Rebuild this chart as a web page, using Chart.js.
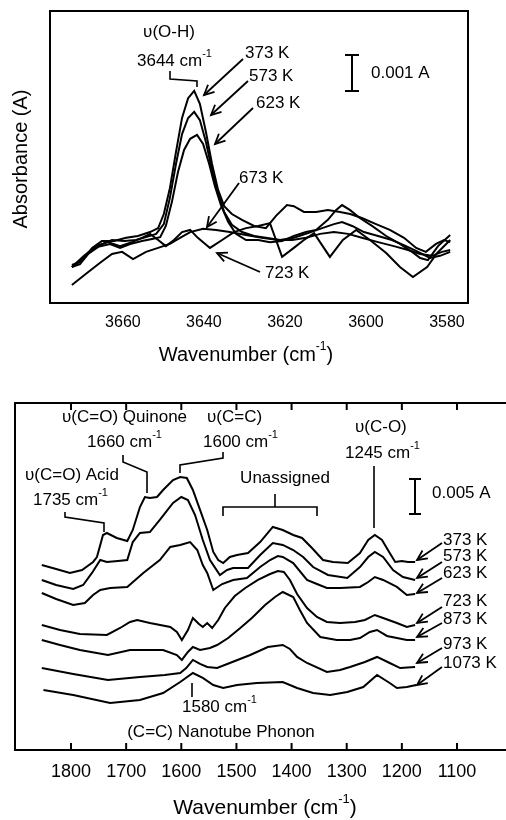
<!DOCTYPE html>
<html>
<head>
<meta charset="utf-8">
<script src="https://cdn.jsdelivr.net/npm/chart.js@4.4.0/dist/chart.umd.min.js"></script>
<style>
  html, body { margin: 0; padding: 0; background: #fff; overflow: hidden; width: 506px; height: 820px; }
  canvas { position: absolute; left: 0; }
  #top { top: 0; }
  #bot { top: 380px; }
</style>
</head>
<body>
<canvas id="top" width="506" height="380"></canvas>
<canvas id="bot" width="520" height="440"></canvas>
<script>
// ---- top panel: O-H stretch region, absorbance in 0.001 A (offset arbitrary)
const topTemps = ['373 K', '573 K', '623 K', '673 K', '723 K'];
const topTicks = [3660, 3640, 3620, 3600, 3580];

const topWn373 = [3672.6,3670.1,3667.6,3665.2,3662.2,3659.2,3656.3,3653.3,3651.3,3649.9,3648.4,3646.9,3645.4,3643.9,3642.4,3641.0,3639.5,3638.0,3636.5,3635.0,3633.1,3630.6,3627.6,3624.7,3622.2,3619.5,3617.8,3615.3,3612.3,3609.4,3606.4,3603.9,3601.0,3597.5,3594.1,3590.6,3587.6,3585.2,3582.7,3580.7,3579.2];
const topAbs373 = [1.00,1.19,1.53,1.72,1.72,1.81,1.86,1.97,2.08,2.47,3.19,4.19,5.14,5.69,5.89,5.53,4.75,3.86,3.14,2.69,2.47,2.31,2.14,2.08,2.42,2.72,2.69,2.53,2.53,2.58,2.53,2.47,2.36,2.19,2.03,1.81,1.53,1.42,1.64,1.75,1.69];

const topWn573 = [3672.6,3670.6,3668.1,3665.7,3662.7,3659.7,3656.8,3654.3,3651.8,3649.9,3648.4,3646.9,3645.4,3643.9,3642.4,3641.0,3639.5,3638.0,3636.5,3635.0,3633.1,3630.6,3627.6,3624.7,3621.2,3617.8,3614.3,3610.8,3607.9,3605.9,3603.4,3600.5,3597.0,3593.6,3590.1,3587.1,3584.2,3581.7,3579.2];
const topAbs573 = [1.06,1.14,1.42,1.61,1.75,1.72,1.75,1.83,1.92,2.19,2.92,3.86,4.69,5.14,5.31,5.08,4.47,3.69,3.03,2.53,2.17,1.97,1.86,1.81,1.75,1.81,1.94,2.08,2.19,2.25,2.14,1.97,1.86,1.75,1.58,1.42,1.25,1.31,1.42];

const topWn623 = [3672.6,3670.6,3668.6,3666.1,3663.2,3660.7,3658.2,3655.3,3652.8,3650.8,3649.4,3647.9,3646.4,3644.9,3643.4,3641.7,3640.2,3638.7,3637.3,3635.8,3634.0,3632.1,3629.6,3626.6,3623.7,3620.7,3617.8,3614.8,3612.3,3609.4,3607.4,3605.9,3603.9,3601.5,3598.5,3595.0,3591.6,3588.6,3586.6,3584.7,3582.2,3579.2];
const topAbs623 = [1.00,1.08,1.36,1.56,1.64,1.53,1.64,1.72,1.78,1.83,2.14,2.81,3.64,4.25,4.56,4.67,4.42,3.86,3.25,2.72,2.25,1.92,1.75,1.75,1.69,1.72,1.86,1.97,2.03,2.31,2.58,2.72,2.58,2.36,2.14,1.86,1.64,1.42,1.25,1.19,1.58,1.89];

const topWn673 = [3672.6,3669.1,3665.7,3662.7,3660.2,3657.5,3654.3,3651.3,3648.4,3645.9,3643.4,3640.2,3637.0,3633.6,3629.6,3625.7,3621.7,3618.2,3614.8,3611.3,3607.9,3604.4,3601.0,3597.0,3593.1,3589.6,3586.6,3583.7,3581.2,3579.2];
const topAbs673 = [0.50,0.81,1.11,1.36,1.42,1.22,1.42,1.53,1.64,1.81,1.97,2.06,2.03,1.97,1.89,1.81,1.75,1.75,1.81,1.92,1.97,1.92,1.81,1.69,1.58,1.47,1.36,1.31,1.42,1.47];

const topWn723 = [3672.6,3669.6,3666.6,3663.7,3660.7,3657.8,3655.3,3653.3,3651.3,3649.4,3647.4,3645.4,3643.4,3641.5,3638.5,3635.5,3632.6,3629.6,3626.6,3623.7,3620.7,3617.8,3615.3,3612.8,3608.9,3605.7,3602.4,3599.0,3595.0,3591.6,3588.4,3584.9,3582.4,3579.2];
const topAbs723 = [1.00,1.31,1.58,1.69,1.58,1.69,1.81,1.92,1.75,1.58,1.75,1.97,2.03,1.81,1.53,1.75,1.97,2.08,2.14,2.22,1.28,1.53,1.75,1.94,1.28,1.75,2.03,1.75,1.39,1.00,0.72,1.00,1.39,1.75];

// ---- bottom panel: 1850-1175 cm-1 region, absorbance in 0.001 A (offset arbitrary)
const botTemps = ['373 K', '573 K', '623 K', '723 K', '873 K', '973 K', '1073 K'];
const botTicks = [1800, 1700, 1600, 1500, 1400, 1300, 1200, 1100];

const botWn373 = [1853,1827,1802,1780,1760,1753,1742,1735,1717,1698,1688,1675,1666,1657,1644,1633,1615,1602,1590,1579,1566,1553,1542,1533,1524,1512,1499,1479,1457,1434,1416,1397,1381,1363,1343,1325,1298,1276,1261,1249,1236,1222,1212,1200,1189,1176];
const botAbs373 = [26.43,25.86,25.29,25.71,26.86,27.57,30.71,31.0,30.29,29.86,31.43,34.71,36.14,36.0,36.14,37.14,38.57,39.0,38.86,37.14,34.29,31.43,28.29,27.14,26.71,27.57,27.86,28.14,29.71,31.86,31.43,30.71,30.29,28.86,27.14,26.86,26.71,28.14,30.0,30.71,30.0,28.14,26.86,27.0,26.86,26.86];

const botWn573 = [1853,1827,1796,1778,1762,1747,1735,1715,1698,1688,1675,1657,1639,1615,1600,1588,1575,1561,1548,1530,1517,1506,1479,1457,1434,1416,1397,1379,1361,1334,1299,1276,1261,1249,1234,1216,1198,1176];
const botAbs573 = [24.29,23.57,23.0,23.57,25.29,27.14,26.86,27.0,27.14,29.71,31.0,31.14,32.86,35.29,36.14,35.71,33.57,30.0,27.14,25.0,25.71,26.0,26.0,27.86,29.57,29.29,28.57,27.57,26.14,25.0,24.57,26.14,27.57,28.29,27.57,25.71,24.71,24.29];

const botWn623 = [1853,1827,1796,1775,1760,1747,1729,1698,1669,1639,1620,1602,1584,1571,1561,1553,1542,1526,1506,1481,1457,1439,1425,1416,1397,1372,1354,1336,1312,1276,1261,1249,1234,1209,1191,1176];
const botAbs623 = [22.43,21.57,20.71,21.0,22.14,22.86,23.14,23.29,25.29,27.14,29.0,29.29,29.71,28.57,26.43,25.29,22.86,23.71,24.29,24.57,26.14,27.14,27.71,27.57,26.71,24.29,23.71,23.14,23.14,23.29,24.0,24.71,24.29,23.29,22.14,22.29];

const botWn723 = [1853,1820,1784,1735,1711,1693,1680,1657,1620,1608,1599,1588,1579,1568,1561,1553,1544,1533,1521,1503,1484,1461,1439,1425,1414,1403,1390,1372,1354,1336,1312,1285,1267,1249,1234,1209,1191,1176];
const botAbs723 = [17.86,17.14,16.57,16.43,17.43,18.29,18.57,18.14,17.57,16.86,15.71,17.14,18.86,18.0,17.57,18.14,17.43,18.57,20.29,22.0,23.14,24.29,25.14,25.57,25.43,24.29,22.29,20.29,19.0,18.29,18.14,18.29,18.57,19.29,18.86,18.14,17.57,17.86];

const botWn873 = [1853,1820,1784,1733,1693,1633,1608,1599,1588,1579,1566,1548,1535,1515,1493,1472,1448,1430,1416,1397,1385,1372,1348,1318,1294,1276,1258,1245,1227,1209,1191,1176];
const botAbs873 = [15.71,15.0,14.29,13.57,14.29,14.29,13.57,12.86,14.0,14.71,14.29,14.57,15.0,16.0,17.43,18.86,20.71,21.86,22.57,21.86,20.0,18.14,16.14,15.71,15.71,16.0,16.86,17.14,16.29,16.0,15.71,15.71];

const botWn973 = [1853,1796,1733,1675,1630,1602,1591,1579,1566,1553,1535,1512,1475,1443,1416,1403,1390,1372,1336,1312,1294,1267,1245,1222,1203,1176];
const botAbs973 = [11.71,10.86,10.0,10.43,10.71,11.0,11.71,12.86,12.29,11.86,11.71,12.43,13.57,14.71,15.0,14.43,13.29,12.43,11.14,11.43,11.86,12.57,13.29,12.43,11.71,11.86];

const botWn1073 = [1850,1796,1729,1675,1633,1602,1579,1561,1542,1524,1499,1463,1416,1390,1361,1330,1299,1270,1245,1222,1209,1191,1174];
const botAbs1073 = [8.57,7.86,6.71,7.14,8.14,9.71,11.0,10.29,9.29,8.86,9.29,9.57,9.71,8.86,8.14,7.86,8.29,9.0,10.71,9.57,8.86,9.0,9.29];

const topWn = [topWn373, topWn573, topWn623, topWn673, topWn723];
const topAbs = [topAbs373, topAbs573, topAbs623, topAbs673, topAbs723];
const botWn = [botWn373, botWn573, botWn623, botWn723, botWn873, botWn973, botWn1073];
const botAbs = [botAbs373, botAbs573, botAbs623, botAbs723, botAbs873, botAbs973, botAbs1073];

const FONT = '"Liberation Sans", Arial, Helvetica, sans-serif';

function series(wn, ab) {
  return wn.map((w, i) => ({ x: w, y: ab[i] }));
}

function poly(ctx, pts) {
  ctx.beginPath();
  ctx.moveTo(pts[0][0], pts[0][1]);
  for (let i = 1; i < pts.length; i++) ctx.lineTo(pts[i][0], pts[i][1]);
  ctx.stroke();
}

function arrow(ctx, x0, y0, x1, y1) {
  poly(ctx, [[x0, y0], [x1, y1]]);
  const a = Math.atan2(y1 - y0, x1 - x0), L = 11, s = 0.45;
  poly(ctx, [[x1 - L * Math.cos(a - s), y1 - L * Math.sin(a - s)], [x1, y1],
             [x1 - L * Math.cos(a + s), y1 - L * Math.sin(a + s)]]);
}

// parts: even entries normal text, odd entries superscript
function rich(ctx, parts, x, y, size, align) {
  const fonts = parts.map((p, i) => (i % 2 ? Math.round(size * 0.62) : size) + 'px ' + FONT);
  let w = 0;
  parts.forEach((p, i) => { ctx.font = fonts[i]; w += ctx.measureText(p).width; });
  let cx = align === 'center' ? x - w / 2 : x;
  ctx.textAlign = 'left';
  ctx.textBaseline = 'middle';
  parts.forEach((p, i) => {
    ctx.font = fonts[i];
    ctx.fillText(p, cx, i % 2 ? y - size * 0.42 : y);
    cx += ctx.measureText(p).width;
  });
}

function scaleBar(ctx, x, y0, y1, cap) {
  poly(ctx, [[x, y0], [x, y1]]);
  poly(ctx, [[x - cap, y0], [x + cap, y0]]);
  poly(ctx, [[x - cap, y1], [x + cap, y1]]);
}

function makeDatasets(names, wns, abs) {
  return names.map((t, i) => ({
    label: t,
    data: series(wns[i], abs[i]),
    showLine: true,
    pointRadius: 0,
    borderColor: '#000',
    borderWidth: 2,
    tension: 0
  }));
}

const topDeco = {
  id: 'topDeco',
  afterDraw(chart) {
    const ctx = chart.ctx, a = chart.chartArea;
    ctx.save();
    ctx.strokeStyle = '#000';
    ctx.fillStyle = '#000';
    ctx.lineWidth = 2;
    ctx.strokeRect(a.left, a.top, a.right - a.left, a.bottom - a.top);

    rich(ctx, ['υ(O-H)'], 169, 32, 17, 'center');
    rich(ctx, ['3644 cm', '-1'], 137, 61, 17, 'left');
    ctx.lineWidth = 1.6;
    poly(ctx, [[170, 71], [170, 79], [197, 81], [197, 87]]);

    const labs = [[245, 53], [249, 76], [256, 103], [239, 178], [265, 273]];
    topTemps.forEach((t, i) => rich(ctx, [t], labs[i][0], labs[i][1], 17, 'left'));
    ctx.lineWidth = 1.8;
    arrow(ctx, 243, 59, 204, 95);
    arrow(ctx, 248, 81, 211, 115);
    arrow(ctx, 253, 108, 215, 144);
    arrow(ctx, 239, 183, 207, 227);
    arrow(ctx, 260, 272, 217, 253);

    ctx.lineWidth = 2;
    scaleBar(ctx, 352, 55, 91, 7);
    rich(ctx, ['0.001 A'], 371, 73, 17, 'left');

    rich(ctx, ['Wavenumber (cm', '-1', ')'], 246, 355, 20, 'center');
    ctx.translate(21, 159);
    ctx.rotate(-Math.PI / 2);
    rich(ctx, ['Absorbance (A)'], 0, 0, 20, 'center');
    ctx.restore();
  }
};

const botDeco = {
  id: 'botDeco',
  afterDraw(chart) {
    const ctx = chart.ctx, a = chart.chartArea, sx = chart.scales.x;
    ctx.save();
    ctx.strokeStyle = '#000';
    ctx.fillStyle = '#000';
    ctx.lineWidth = 2;
    ctx.strokeRect(a.left, a.top, a.right - a.left, a.bottom - a.top);
    botTicks.forEach(v => {
      const x = sx.getPixelForValue(v);
      poly(ctx, [[x, a.top], [x, a.top + 7]]);
      poly(ctx, [[x, a.bottom], [x, a.bottom - 7]]);
    });

    rich(ctx, ['υ(C=O) Quinone'], 62, 37, 17, 'left');
    rich(ctx, ['υ(C=C)'], 207, 37, 17, 'left');
    rich(ctx, ['1660 cm', '-1'], 87, 62, 17, 'left');
    rich(ctx, ['1600 cm', '-1'], 203, 62, 17, 'left');
    rich(ctx, ['υ(C-O)'], 355, 47, 17, 'left');
    rich(ctx, ['1245 cm', '-1'], 345, 73, 17, 'left');
    rich(ctx, ['υ(C=O) Acid'], 25, 95, 17, 'left');
    rich(ctx, ['1735 cm', '-1'], 33, 120, 17, 'left');
    rich(ctx, ['Unassigned'], 285, 98, 17, 'center');
    rich(ctx, ['1580 cm', '-1'], 182, 327, 17, 'left');
    rich(ctx, ['(C=C) Nanotube Phonon'], 221, 352, 17, 'center');

    ctx.lineWidth = 1.6;
    poly(ctx, [[223, 136], [223, 127], [317, 127], [317, 136]]);
    poly(ctx, [[275, 127], [275, 114]]);
    poly(ctx, [[374, 86], [374, 148]]);
    poly(ctx, [[123, 75], [123, 82], [147, 92], [147, 113]]);
    poly(ctx, [[223, 72], [223, 78], [180, 85], [180, 93]]);
    poly(ctx, [[65, 132], [65, 137], [104, 143], [104, 152]]);
    poly(ctx, [[192, 303], [192, 317]]);

    ctx.lineWidth = 2;
    scaleBar(ctx, 415, 99, 134, 6);
    rich(ctx, ['0.005 A'], 432, 113, 17, 'left');

    const ly = [160, 176, 193, 221, 239, 264, 283];
    botTemps.forEach((t, i) => rich(ctx, [t], 443, ly[i], 17, 'left'));
    ctx.lineWidth = 1.8;
    const arr = [[163, 180], [182, 198], [198, 213], [227, 243], [243, 257], [268, 283], [287, 305]];
    arr.forEach(p => arrow(ctx, 442, p[0], 417, p[1]));

    rich(ctx, ['Wavenumber (cm', '-1', ')'], 265, 428, 21, 'center');
    ctx.restore();
  }
};

new Chart(document.getElementById('top'), {
  type: 'scatter',
  data: { datasets: makeDatasets(topTemps, topWn, topAbs) },
  options: {
    responsive: false,
    animation: false,
    devicePixelRatio: 1,
    layout: { padding: { left: 50, top: 11, right: 38, bottom: 0 } },
    plugins: { legend: { display: false }, tooltip: { enabled: false } },
    scales: {
      x: {
        type: 'linear', reverse: true, min: 3574.8, max: 3678,
        grid: { display: false, drawTicks: false },
        border: { display: false },
        afterBuildTicks: s => { s.ticks = topTicks.map(v => ({ value: v })); },
        afterFit: s => { s.height = 77; },
        ticks: { color: '#000', font: { family: FONT, size: 16 }, padding: 10, maxRotation: 0, autoSkip: false,
                 callback: v => String(v) }
      },
      y: { display: false, min: 0, max: 8.11 }
    }
  },
  plugins: [topDeco]
});

new Chart(document.getElementById('bot'), {
  type: 'scatter',
  data: { datasets: makeDatasets(botTemps, botWn, botAbs) },
  options: {
    responsive: false,
    animation: false,
    devicePixelRatio: 1,
    layout: { padding: { left: 15, top: 23, right: 13, bottom: 0 } },
    plugins: { legend: { display: false }, tooltip: { enabled: false } },
    scales: {
      x: {
        type: 'linear', reverse: true, min: 1009.3, max: 1901.6,
        grid: { display: false, drawTicks: false },
        border: { display: false },
        afterBuildTicks: s => { s.ticks = botTicks.map(v => ({ value: v })); },
        afterFit: s => { s.height = 70; },
        ticks: { color: '#000', font: { family: FONT, size: 18 }, padding: 11, maxRotation: 0, autoSkip: false,
                 callback: v => String(v) }
      },
      y: { display: false, min: 0, max: 49.57 }
    }
  },
  plugins: [botDeco]
});
</script>
</body>
</html>
